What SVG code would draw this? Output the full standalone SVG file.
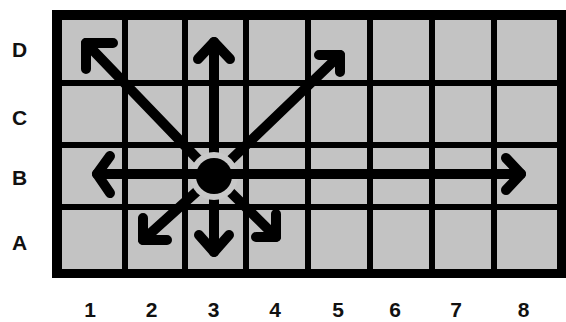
<svg xmlns="http://www.w3.org/2000/svg" width="566" height="322" viewBox="0 0 566 322">
<style>
.grid{stroke:#000;stroke-width:6;fill:none}
.arr{stroke:#000;stroke-width:10;fill:none;stroke-linecap:round;stroke-linejoin:round}
.lbl{font-family:"Liberation Sans",Arial,sans-serif;font-weight:bold;font-size:21px;fill:#111;text-anchor:middle}
</style>
<rect x="0" y="0" width="566" height="322" fill="#fff"/>
<g id="board">
<rect x="52" y="10" width="514" height="268" fill="#000"/>
<rect x="62" y="20" width="495" height="249" fill="#c3c3c3"/>
<g class="grid">
<line x1="125" y1="20" x2="125" y2="269"/>
<line x1="185" y1="20" x2="185" y2="269"/>
<line x1="246" y1="20" x2="246" y2="269"/>
<line x1="308" y1="20" x2="308" y2="269"/>
<line x1="370" y1="20" x2="370" y2="269"/>
<line x1="432" y1="20" x2="432" y2="269"/>
<line x1="494" y1="20" x2="494" y2="269"/>
<line x1="62" y1="83" x2="557" y2="83"/>
<line x1="62" y1="145" x2="557" y2="145"/>
<line x1="62" y1="207" x2="557" y2="207"/>
</g>
</g>
<g id="row-labels" class="lbl">
<text x="19.5" y="56.5">D</text>
<text x="19.5" y="125">C</text>
<text x="19.5" y="185">B</text>
<text x="19.5" y="250">A</text>
</g>
<g id="col-labels" class="lbl">
<text x="90" y="317">1</text>
<text x="151.5" y="317">2</text>
<text x="213.5" y="317">3</text>
<text x="275" y="317">4</text>
<text x="338" y="317">5</text>
<text x="395" y="317">6</text>
<text x="456" y="317">7</text>
<text x="523.5" y="317">8</text>
</g>
<g id="connectors" class="arr">
<polyline points="214,176 86,43"/>
<polyline points="113,43 86,43 86,69"/>
<polyline points="214,176 214,42"/>
<polyline points="198,59 214,42 230,59"/>
<polyline points="214,176 340,55"/>
<polyline points="319,55 340,55 340,72"/>
<polyline points="214,176 143,240"/>
<polyline points="143,218 143,240 167,240"/>
<polyline points="214,176 214,252"/>
<polyline points="199,235 214,252 229,235"/>
<polyline points="214,176 276,237"/>
<polyline points="256,237 276,237 276,214"/>
</g>
<circle id="halo" cx="214" cy="176" r="24" fill="#c8c8c8"/>
<g id="horizontal" class="arr">
<polyline points="97,174 521,174"/>
<polyline points="110,156 97,174 110,193"/>
<polyline points="506,158 521,174 506,190"/>
</g>
<g id="piece">
<circle cx="214" cy="176" r="18" fill="#000"/>
</g>
</svg>
